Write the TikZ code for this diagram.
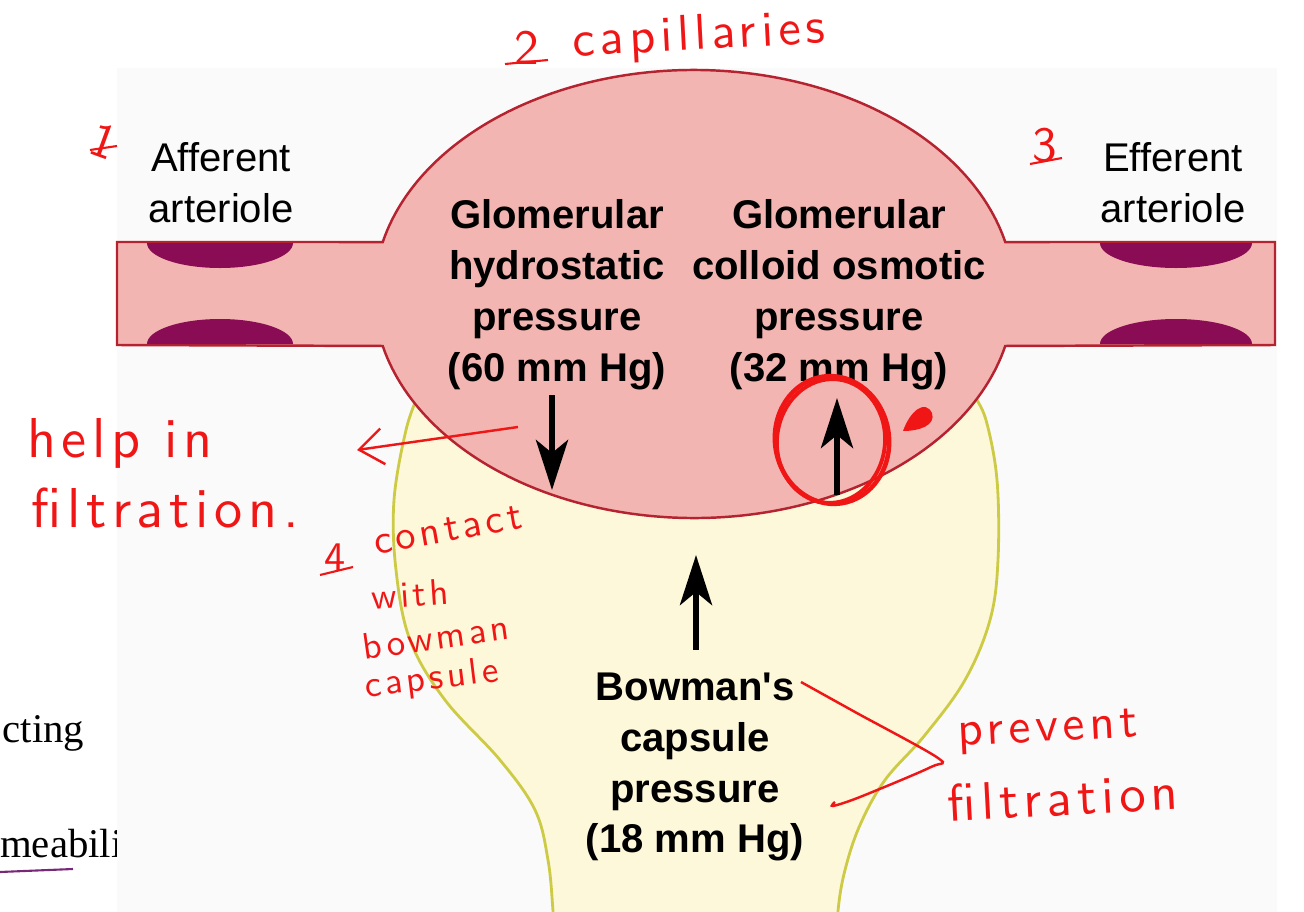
\documentclass[tikz,border=0pt]{standalone}
\usepackage{fontspec}
\newfontfamily\labelfont{Liberation Sans}
\newfontfamily\pagefont{Liberation Serif}
\newfontfamily\handfont{lmsans10-regular.otf}[LetterSpace=10]
\usetikzlibrary{calc}
\usetikzlibrary{arrows.meta}

\definecolor{bloodpink}{RGB}{243,181,177}
\definecolor{wallred}{RGB}{180,35,47}
\definecolor{musclepurple}{RGB}{138,12,84}
\definecolor{capsulefill}{RGB}{253,248,218}
\definecolor{capsuleline}{RGB}{205,203,69}
\definecolor{penred}{RGB}{240,22,22}
\definecolor{panelgray}{RGB}{250,250,250}
\definecolor{inkpurple}{RGB}{120,40,120}

\begin{document}
\begin{tikzpicture}[
	plainlabel/.style={font=\labelfont\fontsize{11.4}{14.5}\selectfont, align=center, inner sep=0pt},
	boldlabel/.style={font=\labelfont\bfseries\fontsize{11.4}{14.5}\selectfont, align=center, inner sep=0pt},
	pen/.style={text=penred, inner sep=0pt},
	push/.style={-{Stealth[length=5mm, width=3.2mm, inset=1.3mm]}, line width=1.7pt, black}]
			\useasboundingbox (0,0) rectangle (13.04,9.11);
			\clip (0,0) rectangle (13.04,9.11);

			% page text behind the figure
			\node[anchor=base west, inner sep=0pt, font=\pagefont\fontsize{11.6}{14}\selectfont] (cting) at (0.02,1.69) {cting};
			\node[anchor=base west, inner sep=0pt, font=\pagefont\fontsize{11.6}{14}\selectfont] (meab) at (-0.005,0.54) {meabili};
			\fill[panelgray] (1.17,-0.1) rectangle (12.77,8.43);

			\node (glom) at (6.94,6.17) {};

			% Bowman's capsule, its top hidden under the glomerulus
			\filldraw[fill=capsulefill, draw=capsuleline, line width=0.8pt]
				plot[smooth, tension=0.6] coordinates {(5.56,-0.5) (5.53,0.00) (5.48,0.51) (5.35,1.01) (5.00,1.51) (4.45,2.11) (4.10,2.71) (3.96,3.41) (3.94,4.11) (4.06,4.81) (4.18,5.15)}
				-- (4.60,5.70) -- (9.30,5.70)
				-- plot[smooth, tension=0.6] coordinates {(9.74,5.15) (9.86,4.91) (9.97,4.31) (9.98,3.51) (9.90,2.91) (9.65,2.31) (9.25,1.76) (8.85,1.31) (8.60,0.86) (8.45,0.41) (8.38,0.00) (8.36,-0.5)}
				-- cycle;

			% arterioles and glomerulus
			\filldraw[fill=bloodpink, draw=wallred, line width=0.7pt]
				(1.17,6.69) -- ($(glom)+(166.58:3.2cm and 2.24cm)$)
				arc[start angle=166.58, end angle=13.42, x radius=3.2cm, y radius=2.24cm]
				-- (12.75,6.69) -- (12.75,5.66) -- ($(glom)+(-13.42:3.2cm and 2.24cm)$)
				arc[start angle=-13.42, end angle=-166.58, x radius=3.2cm, y radius=2.24cm]
				-- (1.17,5.66) -- cycle;

			\fill[musclepurple] (1.47,6.68) arc[start angle=180, end angle=360, x radius=0.73, y radius=0.25] -- cycle;
			\fill[musclepurple] (1.47,5.67) arc[start angle=180, end angle=0, x radius=0.73, y radius=0.25] -- cycle;
			\fill[musclepurple] (11.00,6.68) arc[start angle=180, end angle=360, x radius=0.76, y radius=0.25] -- cycle;
			\fill[musclepurple] (11.00,5.67) arc[start angle=180, end angle=0, x radius=0.76, y radius=0.25] -- cycle;

			\node[plainlabel] (aff) at ($(glom)+(-4.73,1.11)$) {Afferent\\arteriole};
			\node[plainlabel] (eff) at ($(glom)+(4.79,1.11)$) {Efferent\\arteriole};
			\node[boldlabel] (ghp) at ($(glom)+(-1.37,-0.01)$) {Glomerular\\hydrostatic\\pressure\\(60 mm Hg)};
			\node[boldlabel] (gcop) at ($(glom)+(1.45,-0.01)$) {Glomerular\\colloid osmotic\\pressure\\(32 mm Hg)};
			\node[boldlabel] (bcp) at ($(glom)+(0.01,-4.73)$) {Bowman's\\capsule\\pressure\\(18 mm Hg)};

			\coordinate (ghp tail) at (5.52,5.16);
			\coordinate (ghp tip) at (5.52,4.21);
			\coordinate (gcop tail) at (8.37,4.16);
			\coordinate (gcop tip) at (8.37,5.13);
			\coordinate (bcp tail) at (6.96,2.61);
			\coordinate (bcp tip) at (6.96,3.56);
			\draw[push] (ghp tail) -- (ghp tip);
			\draw[push] (gcop tail) -- (gcop tip);
			\draw[push] (bcp tail) -- (bcp tip);

			% notes in red pen
			\node[pen, font=\handfont\fontsize{14}{16}\selectfont, rotate=-20] (n1) at (1.04,7.70) {1};
			\node[pen, font=\handfont\fontsize{14}{16}\selectfont] (n2) at (5.27,8.63) {2};
			\node[pen, font=\handfont\fontsize{14.3}{16}\selectfont, rotate=3] (cap) at (6.99,8.74) {capillaries};
			\node[pen, font=\handfont\fontsize{14}{16}\selectfont] (n3) at (10.45,7.66) {3};
			\node[pen, font=\handfont\fontsize{16}{18}\selectfont] (help) at (1.20,4.68) {help in};
			\node[pen, font=\handfont\fontsize{16}{18}\selectfont] (filt) at (1.65,4.03) {filtration.};
			\node[pen, font=\handfont\fontsize{12}{14}\selectfont] (n4) at (3.35,3.53) {4};
			\node[pen, font=\handfont\fontsize{11.5}{14}\selectfont, rotate=10] (contact) at (4.48,3.81) {contact};
			\node[pen, font=\handfont\fontsize{10.5}{13}\selectfont, rotate=4] (with) at (4.10,3.17) {with};
			\node[pen, font=\handfont\fontsize{10.5}{13}\selectfont, rotate=8] (bowman) at (4.36,2.74) {bowman};
			\node[pen, font=\handfont\fontsize{10.5}{13}\selectfont, rotate=7] (capsule) at (4.32,2.31) {capsule};
			\node[pen, font=\handfont\fontsize{14}{16}\selectfont, rotate=3] (prev) at (10.48,1.79) {prevent};
			\node[pen, font=\handfont\fontsize{15}{17}\selectfont, rotate=3] (filt2) at (10.63,1.14) {filtration};

			\draw[penred, line width=0.6pt] (0.90,7.61) -- (1.17,7.65);
			\draw[penred, line width=0.6pt] (5.05,8.47) -- (5.48,8.51);
			\draw[penred, line width=0.6pt] (10.30,7.47) -- (10.62,7.53);
			\draw[penred, line width=0.6pt] (3.20,3.36) -- (3.53,3.44);

			\coordinate (help tail) at (5.18,4.84);
			\coordinate (help tip) at (3.57,4.61);
			\draw[penred, line width=0.7pt, -{Straight Barb[length=2.4mm, width=3.6mm]}] (help tail) -- (help tip);

			\draw[penred, line width=0.7pt] plot[smooth, tension=0.5] coordinates {(8.01,2.29) (8.55,1.99) (9.38,1.53) (9.31,1.44) (8.60,1.14) (8.33,1.05) (8.35,1.09)};

			\draw[penred, line width=1.3pt, rotate around={8:(8.32,4.71)}] (8.32,4.71) ellipse[x radius=0.57, y radius=0.64];
			\draw[penred, line width=1.1pt, rotate around={-6:(8.31,4.70)}] (8.31,4.70) ellipse[x radius=0.54, y radius=0.62];
			\fill[penred] (9.03,4.80) .. controls (9.10,5.00) and (9.25,5.12) .. (9.32,4.98) .. controls (9.36,4.86) and (9.20,4.80) .. cycle;

			\draw[inkpurple, line width=0.6pt] (0.00,0.39) -- (0.73,0.42);
		\end{tikzpicture}
\end{document}
